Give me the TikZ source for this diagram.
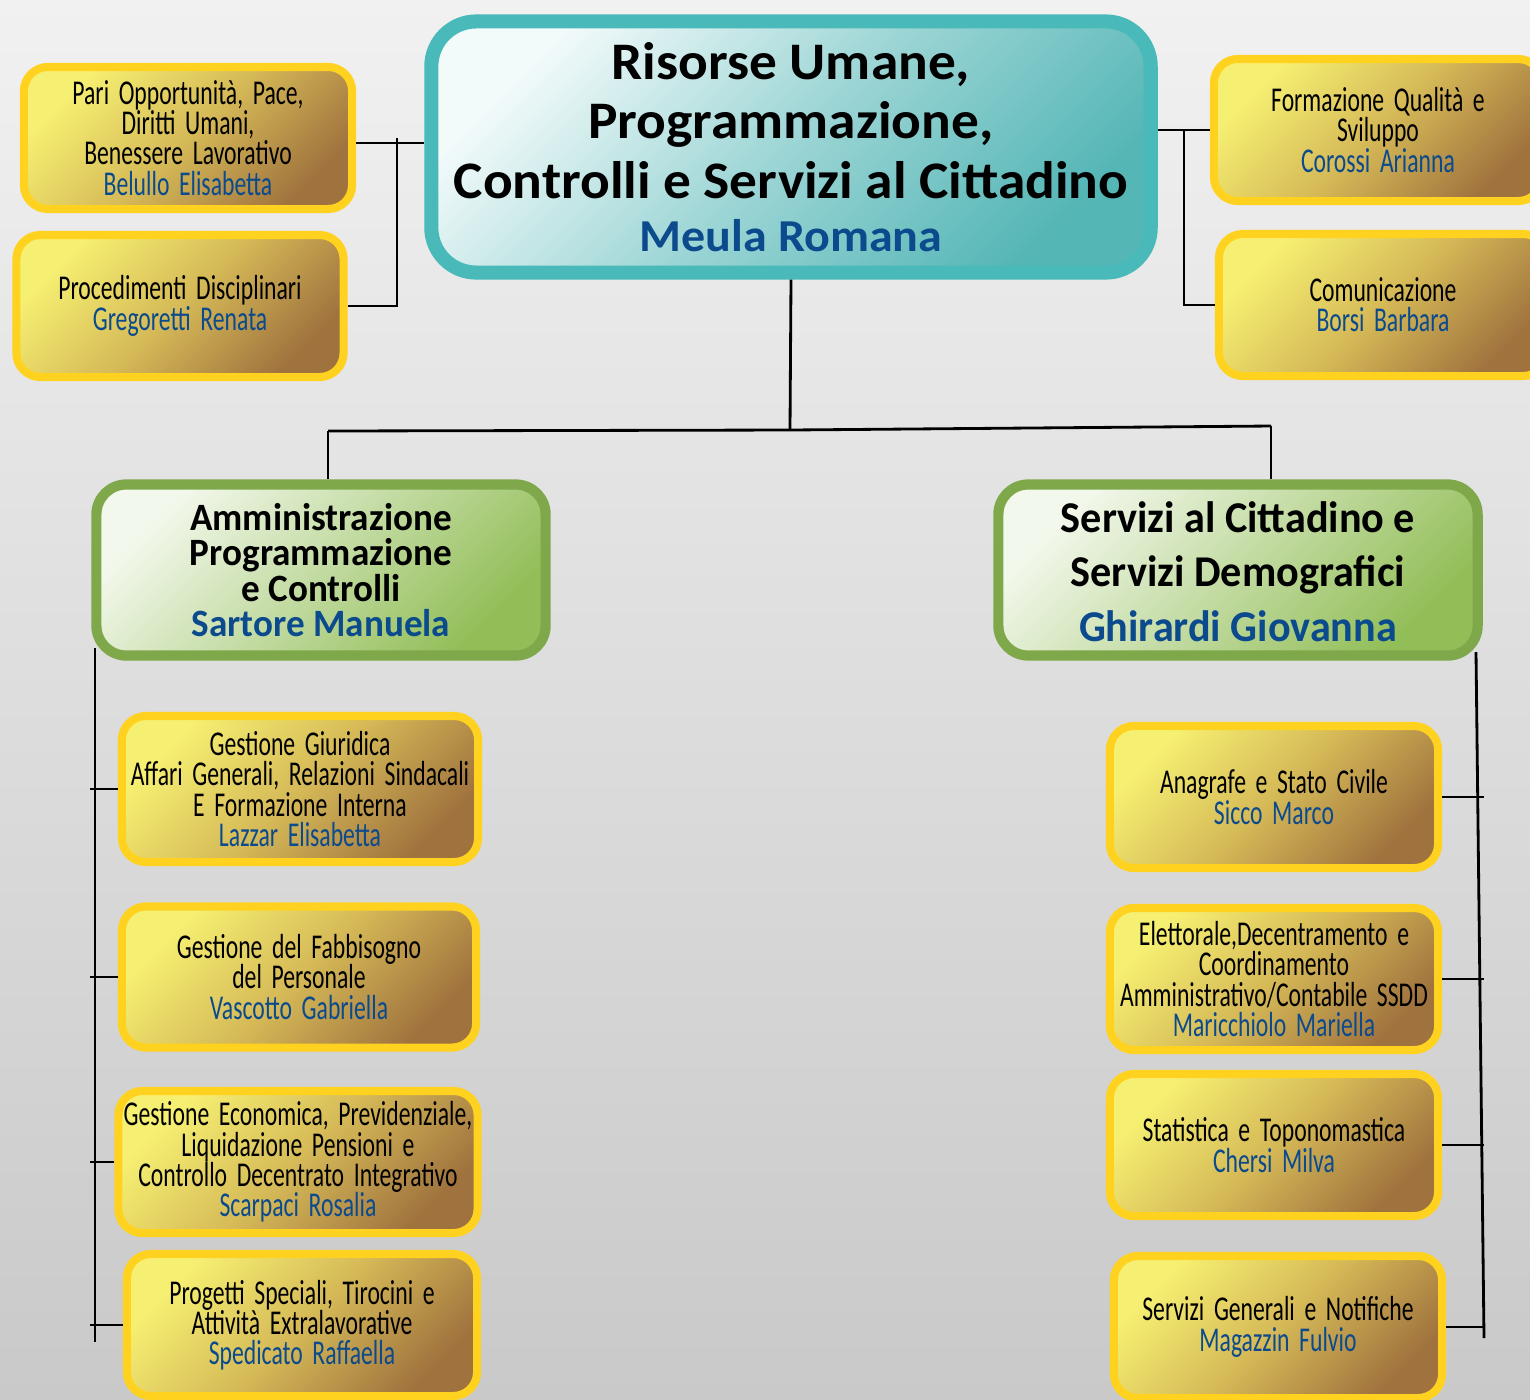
\documentclass[tikz,border=0pt]{standalone}
\usepackage{fontspec}
\setmainfont{Carlito}
\newfontfamily\topfont[FakeStretch=1.05]{Carlito}
\newfontfamily\areafont[FakeStretch=0.96]{Carlito}
\newfontfamily\narrowfont[FakeStretch=0.68, WordSpace=1.8]{Carlito}
\usetikzlibrary{positioning}

\definecolor{bgtop}{HTML}{F1F1F1}
\definecolor{bgbot}{HTML}{C9C9C9}
\definecolor{nameblue}{HTML}{0B4A8C}
\definecolor{unitgold}{HTML}{FFD21F}
\definecolor{unittop}{HTML}{F6F072}
\definecolor{unitmid}{HTML}{D5B957}
\definecolor{unitbot}{HTML}{A0733E}
\definecolor{headteal}{HTML}{49B9B9}
\definecolor{headtop}{HTML}{F2FAFA}
\definecolor{headbot}{HTML}{55B6B6}
\definecolor{areagreen}{HTML}{7EA84A}
\definecolor{areatop}{HTML}{F3F8EC}
\definecolor{areabot}{HTML}{92BE58}

\newcommand{\who}[1]{\textcolor{nameblue}{#1}}

\begin{document}
\begin{tikzpicture}[
    x=0.01cm, y=-0.01cm,
    head/.style={draw=headteal, line width=4pt, rounded corners=0.45cm,
        top color=headtop, bottom color=headbot, middle color=headtop!45!headbot,
        shading angle=45, align=center, inner sep=0pt,
        minimum width=7.19cm, minimum height=2.51cm,
        font=\topfont\bfseries\fontsize{15}{17}\selectfont},
    area/.style={draw=areagreen, line width=2.9pt, rounded corners=0.3cm,
        top color=areatop, bottom color=areabot, middle color=areatop!50!areabot,
        shading angle=45, align=center, inner sep=0pt,
        minimum height=1.71cm, font=\areafont\bfseries\fontsize{11}{10}\selectfont},
    unit/.style={draw=unitgold, line width=2.3pt, rounded corners=0.24cm,
        top color=unittop, bottom color=unitbot, middle color=unitmid,
        shading angle=45, align=center, inner sep=0pt,
        minimum width=3.28cm, minimum height=1.42cm,
        font=\narrowfont\fontsize{9.9}{8.6}\selectfont},
    link/.style={line width=0.8pt, black}
]
\useasboundingbox (0,0) rectangle (1530,1399);
\clip (0,0) rectangle (1530,1399);
\fill[top color=bgtop, bottom color=bgbot] (0,0) rectangle (1530,1399);

% direzione
\node[head] (top) at (791,147) {Risorse Umane,\\Programmazione,\\Controlli e Servizi al Cittadino\\[-2pt]\who{\fontsize{13}{15}\selectfont Meula Romana}};

% staff
\node[unit] (pari) at (188,138) {Pari Opportunità, Pace,\\Diritti Umani,\\Benessere Lavorativo\\\who{Belullo Elisabetta}};
\node[unit, minimum width=3.27cm] (proc) at (180,306) {Procedimenti Disciplinari\\\who{Gregoretti Renata}};
\node[unit] (form) at (1378,130) {Formazione Qualità e\\Sviluppo\\\who{Corossi Arianna}};
\node[unit] (comu) at (1383,305) {Comunicazione\\\who{Borsi Barbara}};

% aree
\node[area, minimum width=4.49cm] (amm) at (321,570) {Amministrazione\\Programmazione\\e Controlli\\\who{Sartore Manuela}};
\node[area, minimum width=4.79cm, font=\areafont\bfseries\fontsize{12.5}{15.5}\selectfont] (serv) at (1238,570) {\\[-6pt]Servizi al Cittadino e\\Servizi Demografici\\\who{Ghirardi Giovanna}};

% uffici
\node[unit, minimum width=3.56cm, minimum height=1.46cm] (gg) at (300,789) {Gestione Giuridica\\Affari Generali, Relazioni Sindacali\\E Formazione Interna\\\who{Lazzar Elisabetta}};
\node[unit, minimum width=3.54cm, minimum height=1.41cm] (fab) at (299,977) {Gestione del Fabbisogno\\del Personale\\\who{Vascotto Gabriella}};
\node[unit, minimum width=3.59cm] (eco) at (298,1162) {Gestione Economica, Previdenziale,\\Liquidazione Pensioni e\\Controllo Decentrato Integrativo\\\who{Scarpaci Rosalia}};
\node[unit, minimum width=3.50cm] (prog) at (302,1325) {Progetti Speciali, Tirocini e\\Attività Extralavorative\\\who{Spedicato Raffaella}};

\node[unit] (ana) at (1274,797) {Anagrafe e Stato Civile\\\who{Sicco Marco}};
\node[unit] (ele) at (1274,979) {Elettorale,Decentramento e\\Coordinamento\\Amministrativo/Contabile SSDD\\\who{Maricchiolo Mariella}};
\node[unit] (sta) at (1274,1145) {Statistica e Toponomastica\\\who{Chersi Milva}};
\node[unit] (sgn) at (1278,1327) {Servizi Generali e Notifiche\\\who{Magazzin Fulvio}};

% collegamenti staff
\coordinate (lj) at (397,143);
\coordinate (rj) at (1184,130);
\draw[link] (top.west |- lj) -- (pari.east |- lj);
\draw[link] (397,138) -- (lj |- proc.east) -- (proc.east);
\draw[link] (top.east |- form.west) -- (form.west);
\draw[link] (rj) |- (comu.west);

% collegamenti aree
\coordinate (bus) at (790,430);
\coordinate (bl) at (328,431);
\coordinate (br) at (1271,426);
\draw[link] (top.south) -- (bus);
\draw[link] (bl) -- (bus) -- (br);
\draw[link] (bl) -- (bl |- amm.north);
\draw[link] (br) -- (br |- serv.north);

% colonne uffici
\coordinate (ltick) at (90,0);
\coordinate (rtick) at (1484,0);
\draw[link] (95,648) -- (95,1342);
\foreach \n in {gg,fab,eco,prog}
    \draw[link] (\n.west) -- (\n.west -| ltick);
\draw[link] (1476,652) -- (1484,1338);
\foreach \n in {ana,ele,sta,sgn}
    \draw[link] (\n.east) -- (\n.east -| rtick);
\end{tikzpicture}
\end{document}
